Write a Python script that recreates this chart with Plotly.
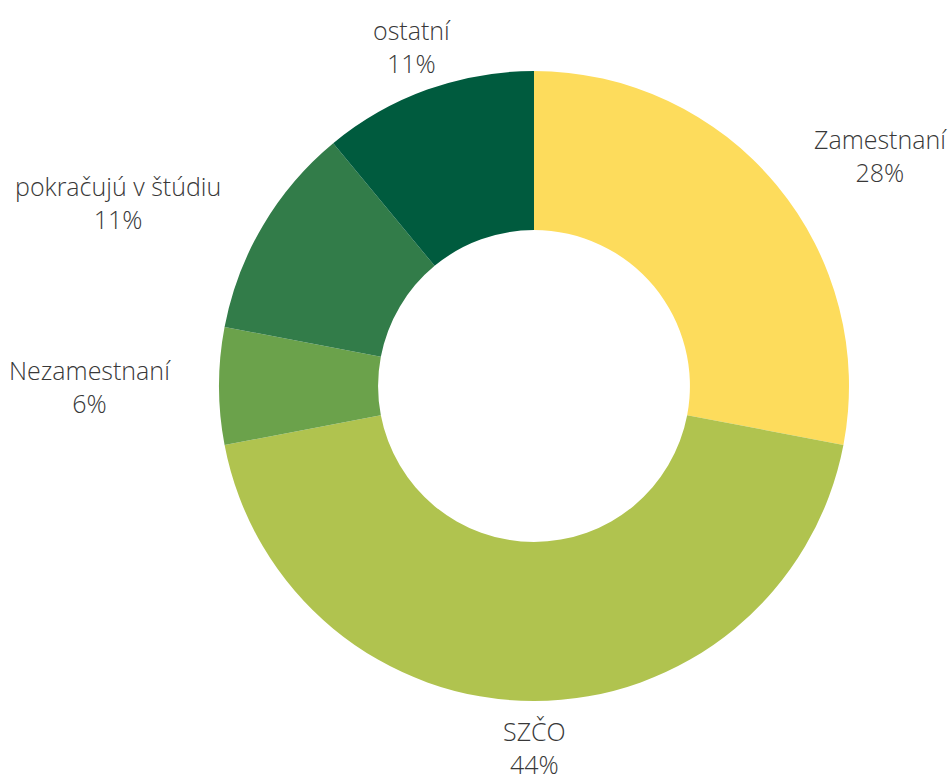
import math
import plotly.graph_objects as go

labels = ["Zamestnaní", "SZČO", "Nezamestnaní", "pokračujú v štúdiu", "ostatní"]
values = [28, 44, 6, 11, 11]
colors = ["#FDDC5C", "#B0C34F", "#6BA24B", "#327C49", "#005B3E"]

W, H = 952, 780
cx, cy, r = 534, 386, 315  # figure px
label_r = 361

fig = go.Figure(go.Pie(
    labels=labels,
    values=values,
    hole=0.495,
    sort=False,
    direction="clockwise",
    rotation=0,
    marker=dict(colors=colors, line=dict(width=0)),
    textinfo="none",
    domain=dict(x=[(cx - r) / W, (cx + r) / W], y=[(H - cy - r) / H, (H - cy + r) / H]),
    showlegend=False,
    hoverinfo="label+percent",
))

total = sum(values)
cum = 0
annotations = []
for lab, v in zip(labels, values):
    mid = (cum + v / 2) / total * 2 * math.pi
    cum += v
    s, c = math.sin(mid), math.cos(mid)
    px = cx + label_r * s
    py = cy - label_r * c
    if s > 0.5:
        xa = "left"
    elif s < -0.5:
        xa = "right"
    else:
        xa = "center"
    annotations.append(dict(
        x=px / W, y=1 - py / H, xref="paper", yref="paper",
        text=f"{lab}<br>{round(v / total * 100)}%",
        showarrow=False, xanchor=xa, yanchor="middle", align="center",
        font=dict(family="Open Sans", size=25, color="#383838", weight=300),
    ))

fig.update_layout(
    width=W, height=H,
    margin=dict(l=0, r=0, t=0, b=0),
    paper_bgcolor="white",
    showlegend=False,
    annotations=annotations,
)

fig.write_html(
    "out.html",
    config={"displayModeBar": False},
    post_script="document.body.style.margin='0';document.body.style.overflow='hidden';",
)
